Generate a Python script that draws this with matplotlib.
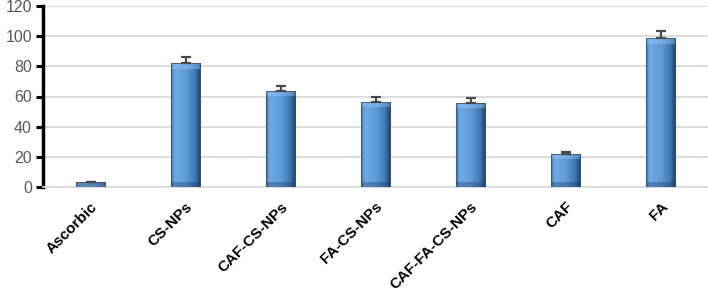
import matplotlib
matplotlib.use("Agg")
import matplotlib.pyplot as plt
import numpy as np
from matplotlib.colors import LinearSegmentedColormap

categories = ["Ascorbic", "CS-NPs", "CAF-CS-NPs", "FA-CS-NPs", "CAF-FA-CS-NPs", "CAF", "FA"]
values = [3.0, 82.0, 63.8, 56.6, 56.0, 22.0, 98.6]
errors = [0.6, 4.4, 3.2, 3.2, 2.9, 1.4, 5.0]
yticks = [0, 20, 40, 60, 80, 100, 120]

fig = plt.figure(figsize=(7.08, 2.91), dpi=100)
ax = fig.add_axes([43/708, 104/291, 1 - 43/708, 181/291])

x = np.arange(len(categories))
width = 0.31
bars = ax.bar(x, values, width=width, color="none", edgecolor="none", zorder=3)

# gradient fill to emulate bevelled Excel bars
cmap = LinearSegmentedColormap.from_list(
    "bevel",
    [(0.0, "#3A6EA5"), (0.12, "#70AAE2"), (0.5, "#5E9DDA"), (0.82, "#3F76B0"), (1.0, "#1E3A5C")],
)
grad = np.linspace(0, 1, 256).reshape(1, -1)
for b in bars:
    x0, y0 = b.get_x(), b.get_y()
    w, h = b.get_width(), b.get_height()
    im = ax.imshow(grad, cmap=cmap, aspect="auto", extent=[x0, x0 + w, y0, y0 + h],
                   zorder=3, interpolation="bicubic")
    im.set_clip_path(b)
    # top and bottom bevel shading
    ax.fill_between([x0, x0 + w], [y0 + h, y0 + h], [y0 + h - min(h, 3.5)] * 2,
                    color="#9CCBF5", alpha=0.4, zorder=4, linewidth=0)
    ax.fill_between([x0, x0 + w], [y0, y0], [y0 + min(h, 3.5)] * 2,
                    color="#1E3A5C", alpha=0.35, zorder=4, linewidth=0)
    ax.add_patch(plt.Rectangle((x0, y0), w, h, fill=False, edgecolor="#2F5580",
                               linewidth=0.6, zorder=5))

ax.errorbar(x, values, yerr=[np.zeros(len(errors)), errors], fmt="none",
            ecolor="#4A4A4A", elinewidth=1.6, capsize=3.6, capthick=1.6, zorder=6)

ax.set_xlim(-0.5, len(categories) - 0.5)
ax.set_ylim(0, 120)
ax.set_yticks(yticks)
ax.set_yticklabels([str(t) for t in yticks], fontsize=11.5, color="#595959",
                   family="Liberation Sans")
ax.yaxis.grid(True, color="#D9D9D9", linewidth=1.3, zorder=0)
ax.set_axisbelow(True)

ax.set_xticks(x)
ax.set_xticklabels(categories, rotation=45, ha="right", rotation_mode="anchor",
                   fontsize=11, fontweight="bold", family="Liberation Sans", color="black")
ax.tick_params(axis="x", length=0, pad=9)
ax.tick_params(axis="y", direction="out", length=5, width=2.2, color="black", pad=3)

for s in ["top", "right"]:
    ax.spines[s].set_visible(False)
ax.spines["left"].set_linewidth(2.5)
ax.spines["left"].set_color("black")
ax.spines["bottom"].set_color("#D9D9D9")
ax.spines["bottom"].set_linewidth(1.3)

fig.savefig("out.png", dpi=100)
